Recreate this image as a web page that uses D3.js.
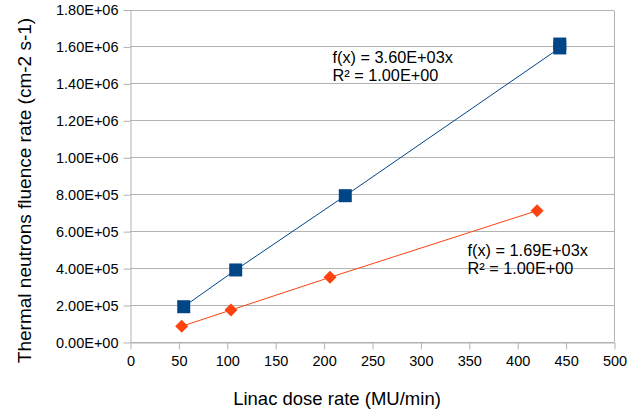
<!DOCTYPE html>
<html>
<head>
<meta charset="utf-8">
<script src="https://cdn.jsdelivr.net/npm/d3@7"></script>
<style>
body {margin:0; background:#fff;}
text {font-family: "Liberation Sans", Arial, sans-serif; fill:#000;}
</style>
</head>
<body>
<div id="canvas"></div>
<script>
// dose rate (MU/min) and thermal neutron fluence rate (cm-2 s-1)
var blueX = [55.5, 109.2, 222.4, 444, 444];
var blueY = [1.91e5, 3.90e5, 7.92e5, 1.592e6, 1.613e6];
var redX = [53.4, 104.3, 206.6, 420.5];
var redY = [8.5e4, 1.73e5, 3.50e5, 7.11e5];

var xTicks = [0, 50, 100, 150, 200, 250, 300, 350, 400, 450, 500];
var yTicks = [0, 2e5, 4e5, 6e5, 8e5, 1e6, 1.2e6, 1.4e6, 1.6e6, 1.8e6];

var blueFit = ["f(x) = 3.60E+03x", "R\u00b2 = 1.00E+00"];
var redFit = ["f(x) = 1.69E+03x", "R\u00b2 = 1.00E+00"];

var width = 629;
var height = 414;
// (window.top is taken, so plot edges get their own names)
var plotLeft = 130, plotRight = 614, plotTop = 9.5, plotBottom = 342;
var gridColor = "#b3b3b3";
var blue = "#004586";
var red = "#ff420e";

var svg = d3.select("#canvas").append("svg")
	.attr("width", width)
	.attr("height", height);

var x = d3.scaleLinear().domain([0, 500]).range([plotLeft, plotRight]);
var y = d3.scaleLinear().domain([0, 1.8e6]).range([plotBottom, plotTop]);

function sci(v) {
	// 1.80E+06 style
	var s = v.toExponential(2).toUpperCase();
	return s.replace(/E([+-])(\d)$/, "E$10$2");
}

// horizontal grid
svg.append("g").selectAll("line")
	.data(yTicks).enter().append("line")
	.attr("x1", plotLeft).attr("x2", plotRight)
	.attr("y1", function(d){return Math.round(y(d))+0.5;})
	.attr("y2", function(d){return Math.round(y(d))+0.5;})
	.style("stroke", gridColor);

// right border
svg.append("line")
	.attr("x1", plotRight+0.5).attr("x2", plotRight+0.5)
	.attr("y1", Math.round(plotTop)+0.5).attr("y2", plotBottom)
	.style("stroke", gridColor);

var yAxis = svg.append("g")
	.attr("transform", "translate(" + (plotLeft+0.5) + ",0.5)")
	.call(d3.axisLeft(y).tickValues(yTicks).tickFormat(sci).tickSizeInner(7).tickSizeOuter(0).tickPadding(5));

var xAxis = svg.append("g")
	.attr("transform", "translate(0.5," + (plotBottom+0.5) + ")")
	.call(d3.axisBottom(x).tickValues(xTicks).tickSizeInner(7).tickSizeOuter(0).tickPadding(6));

[xAxis, yAxis].forEach(function(a){
	a.selectAll("path, line").style("stroke", gridColor);
	a.selectAll("text")
		.style("font-family", '"Liberation Sans", Arial, sans-serif')
		.style("font-size", "14.5px")
		.attr("fill", "#000");
});

function series(xs, ys, color, shape) {
	var pts = xs.map(function(v, i){return [v, ys[i]];});
	svg.append("path")
		.datum(pts)
		.attr("d", d3.line().x(function(d){return x(d[0]);}).y(function(d){return y(d[1]);}))
		.style("fill", "none")
		.style("stroke", color)
		.style("stroke-width", 1);
	svg.append("g").selectAll("path")
		.data(pts).enter().append("path")
		.attr("d", d3.symbol().type(d3.symbolSquare).size(shape == "square" ? 169 : 84.5))
		.attr("transform", function(d){
			return "translate(" + x(d[0]) + "," + y(d[1]) + ")" + (shape == "square" ? "" : " rotate(45)");
		})
		.style("fill", color);
}

series(blueX, blueY, blue, "square");
series(redX, redY, red, "diamond");

function fitLabel(lines, px, py) {
	svg.append("g").selectAll("text")
		.data(lines).enter().append("text")
		.attr("x", px)
		.attr("y", function(d, i){return py + i*18;})
		.style("font-size", "16.3px")
		.text(function(d){return d;});
}
fitLabel(blueFit, 332.5, 62.7);
fitLabel(redFit, 467.5, 255.7);

svg.append("text")
	.attr("x", 337)
	.attr("y", 405)
	.style("text-anchor", "middle")
	.style("font-size", "18.5px")
	.text("Linac dose rate (MU/min)");

svg.append("text")
	.attr("transform", "translate(31,190.5) rotate(-90)")
	.style("text-anchor", "middle")
	.style("font-size", "19px")
	.text("Thermal neutrons fluence rate (cm-2 s-1)");
</script>
</body>
</html>
